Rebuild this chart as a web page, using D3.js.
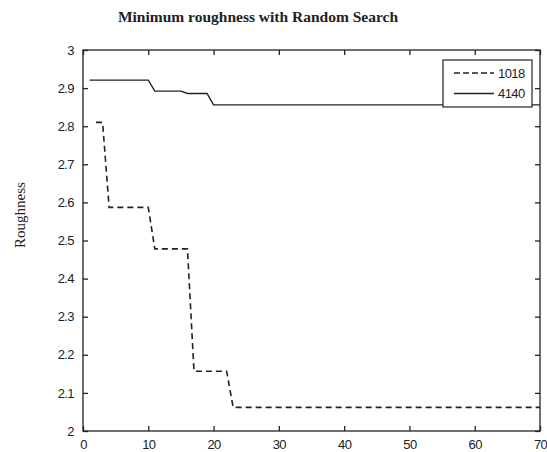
<!DOCTYPE html>
<html>
<head>
<meta charset="utf-8">
<script src="https://cdn.jsdelivr.net/npm/d3@7"></script>
<style>
  body { margin: 0; background: #fff; }
  svg { display: block; }
</style>
</head>
<body>
<div id="cont"></div>
<script>
// Data
var xTicks = [0, 10, 20, 30, 40, 50, 60, 70];
var yTicks = [2, 2.1, 2.2, 2.3, 2.4, 2.5, 2.6, 2.7, 2.8, 2.9, 3];

var iter1018 = [2, 3, 4, 10, 11, 16, 17, 22, 23, 70];
var val1018  = [2.81, 2.81, 2.587, 2.587, 2.478, 2.478, 2.157, 2.157, 2.062, 2.062];

var iter4140 = [1, 10, 11, 15, 16, 19, 20, 70];
var val4140  = [2.921, 2.921, 2.892, 2.892, 2.886, 2.886, 2.856, 2.856];

var seriesNames = ["1018", "4140"];

// Layout
var W = 547, H = 452;
var m = {left: 83, right: 540, top: 50, bottom: 431};
var ink = "#222";

var svg = d3.select("#cont").append("svg")
    .attr("width", W)
    .attr("height", H);

var x = d3.scaleLinear().domain([0, 70]).range([m.left, m.right]);
var y = d3.scaleLinear().domain([2, 3]).range([m.bottom, m.top]);

// box
svg.append("rect")
    .attr("x", m.left).attr("y", m.top)
    .attr("width", m.right - m.left).attr("height", m.bottom - m.top)
    .attr("fill", "none").attr("stroke", ink).attr("stroke-width", 1.3);

// axes with inward ticks
var tickFont = "'Liberation Sans', Arial, sans-serif";
var axBottom = svg.append("g").attr("transform", "translate(0," + m.bottom + ")")
    .call(d3.axisBottom(x).tickValues(xTicks).tickSize(-5).tickPadding(9));
var axLeft = svg.append("g").attr("transform", "translate(" + m.left + ",0)")
    .call(d3.axisLeft(y).tickValues(yTicks).tickSize(-5).tickPadding(9)
        .tickFormat(function(d) { return d3.format("~g")(d); }));
var axTop = svg.append("g").attr("transform", "translate(0," + m.top + ")")
    .call(d3.axisTop(x).tickValues(xTicks).tickSize(-5).tickFormat(""));
var axRight = svg.append("g").attr("transform", "translate(" + m.right + ",0)")
    .call(d3.axisRight(y).tickValues(yTicks).tickSize(-5).tickFormat(""));

[axBottom, axLeft, axTop, axRight].forEach(function(g) {
    g.select(".domain").remove();
    g.selectAll("line").attr("stroke", ink).attr("stroke-width", 1.3);
    g.selectAll("text")
        .attr("fill", ink)
        .style("font-family", tickFont)
        .style("font-size", "13px")
        .style("letter-spacing", "-0.6px");
});

// lines
var line = d3.line()
    .x(function(d) { return x(d[0]); })
    .y(function(d) { return y(d[1]); });

svg.append("path")
    .datum(d3.zip(iter4140, val4140))
    .attr("d", line)
    .attr("fill", "none")
    .attr("stroke", ink)
    .attr("stroke-width", 1.4);

svg.append("path")
    .datum(d3.zip(iter1018, val1018))
    .attr("d", line)
    .attr("fill", "none")
    .attr("stroke", ink)
    .attr("stroke-width", 1.6)
    .attr("stroke-dasharray", "6,4");

// legend
var lg = svg.append("g").attr("transform", "translate(443,60)");
lg.append("rect")
    .attr("width", 89).attr("height", 47)
    .attr("fill", "#fff").attr("stroke", ink).attr("stroke-width", 1.2);
seriesNames.forEach(function(name, i) {
    var yy = 13 + i * 20.5;
    lg.append("line")
        .attr("x1", 11).attr("x2", 51).attr("y1", yy).attr("y2", yy)
        .attr("stroke", ink).attr("stroke-width", 1.4)
        .attr("stroke-dasharray", i === 0 ? "6,3" : null);
    lg.append("text")
        .attr("x", 55).attr("y", yy + 4.5)
        .attr("fill", ink)
        .style("font-family", tickFont)
        .style("font-size", "13px")
        .style("letter-spacing", "-0.6px")
        .text(name);
});

// title and label
svg.append("text")
    .attr("x", 258).attr("y", 22)
    .attr("text-anchor", "middle")
    .attr("fill", ink)
    .style("font-family", "'Liberation Serif', 'Times New Roman', serif")
    .style("font-size", "15.5px")
    .style("font-weight", "bold")
    .text("Minimum roughness with Random Search");

svg.append("text")
    .attr("transform", "translate(25,215) rotate(-90)")
    .attr("text-anchor", "middle")
    .attr("fill", ink)
    .style("font-family", "'Liberation Serif', 'Times New Roman', serif")
    .style("font-size", "15px")
    .text("Roughness");
</script>
</body>
</html>
